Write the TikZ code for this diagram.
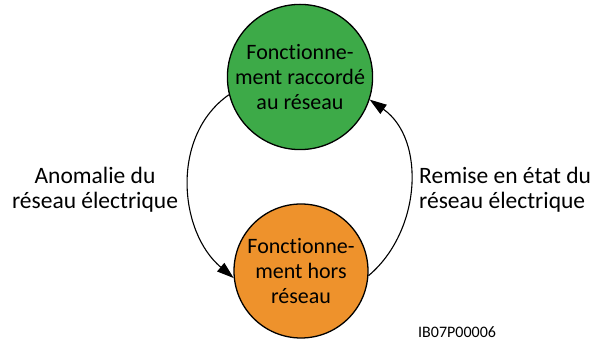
\documentclass[tikz,border=0pt]{standalone}
\usepackage{fontspec}
\setmainfont{Carlito}[Ligatures={NoCommon}]
\usetikzlibrary{arrows.meta}
\definecolor{cgreen}{HTML}{3DAA48}
\definecolor{corange}{HTML}{EE922C}
\tikzset{
  state/.style={circle, draw=black, line width=1.3pt, minimum size=134pt, inner sep=0pt, align=center, font=\fontsize{22}{25}\selectfont},
  lbl/.style={font=\fontsize{23.5}{25}\selectfont, inner sep=0pt},
  conn/.style={line width=1.1pt, -{Triangle[length=17pt,width=11pt]}}
}
\begin{document}
\begin{tikzpicture}[x=1pt,y=1pt]
\useasboundingbox[fill=white] (0,0) rectangle (595,344);
\node[state, fill=cgreen] (top) at (300,267) {Fonctionne-\\ment raccordé\\au réseau};
\node[state, fill=corange] (bot) at (301,73) {Fonctionne-\\ment hors\\réseau};
\draw[conn] (top.194) to[out=215, in=140, looseness=1.0] (bot.186);
\draw[conn] (bot.356) to[out=40, in=325, looseness=1.0] (top.342);
\node[lbl, align=center] (l) at (95,154) {Anomalie du\\réseau électrique};
\node[lbl, align=left, anchor=west] (r) at (419,154) {Remise en état du\\réseau électrique};
\node[font=\fontsize{16}{18}\selectfont, anchor=south west, inner sep=0pt] (id) at (418,6) {IB07P00006};
\end{tikzpicture}
\end{document}
